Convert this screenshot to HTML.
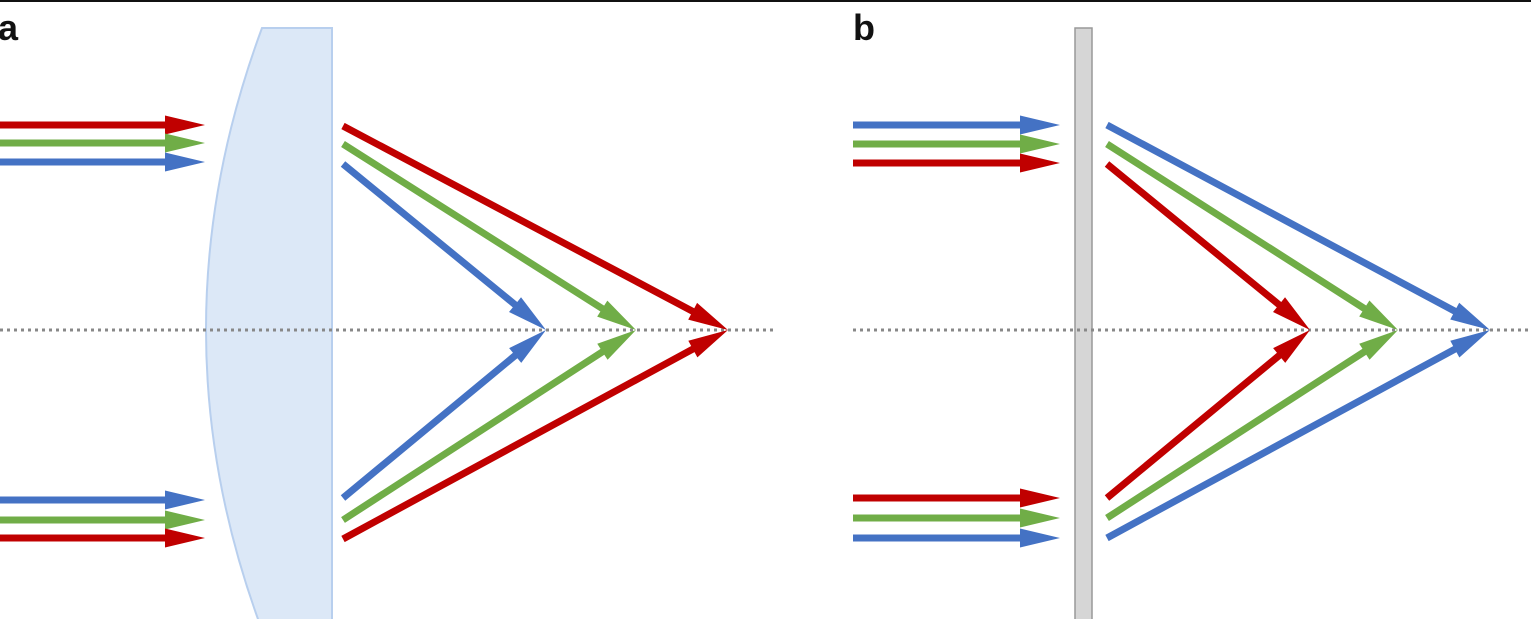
<!DOCTYPE html>
<html><head><meta charset="utf-8"><style>html,body{margin:0;padding:0;background:#fff;}svg{display:block}</style></head>
<body>
<svg width="1531" height="619" viewBox="0 0 1531 619" xmlns="http://www.w3.org/2000/svg">
<rect x="0" y="0" width="1531" height="2" fill="#111"/>
<text x="-2" y="40" font-family="Liberation Sans, sans-serif" font-weight="bold" font-size="36" fill="#111">a</text>
<text x="853" y="40" font-family="Liberation Sans, sans-serif" font-weight="bold" font-size="36" fill="#111">b</text>
<path d="M262,28 L332,28 L332,630 L262,630 Q150,330 262,28 z" fill="#dce8f7" stroke="#b8cfee" stroke-width="2"/>
<rect x="1075" y="28" width="17" height="600" fill="#d6d6d6" stroke="#999" stroke-width="1.5"/>
<line x1="0" y1="330" x2="775" y2="330" stroke="#888" stroke-width="3" stroke-dasharray="3,4"/>
<line x1="853" y1="330" x2="1531" y2="330" stroke="#888" stroke-width="3" stroke-dasharray="3,4"/>
<!-- panel a incoming -->
<g transform="translate(0,125)"><path fill="#c00000" d="M0,-3.5H165V-9.5L205,0L165,9.5V3.5H0Z"/></g>
<g transform="translate(0,143)"><path fill="#70ad47" d="M0,-3.5H165V-9.5L205,0L165,9.5V3.5H0Z"/></g>
<g transform="translate(0,162)"><path fill="#4472c4" d="M0,-3.5H165V-9.5L205,0L165,9.5V3.5H0Z"/></g>
<g transform="translate(0,500)"><path fill="#4472c4" d="M0,-3.5H165V-9.5L205,0L165,9.5V3.5H0Z"/></g>
<g transform="translate(0,520)"><path fill="#70ad47" d="M0,-3.5H165V-9.5L205,0L165,9.5V3.5H0Z"/></g>
<g transform="translate(0,538)"><path fill="#c00000" d="M0,-3.5H165V-9.5L205,0L165,9.5V3.5H0Z"/></g>
<!-- panel a outgoing -->
<g transform="translate(343,126) rotate(27.92)"><path fill="#c00000" d="M0,-3.5H395.7V-9.5L435.7,0L395.7,9.5V3.5H0Z"/></g>
<g transform="translate(343,144) rotate(32.41)"><path fill="#70ad47" d="M0,-3.5H307.1V-9.5L347.1,0L307.1,9.5V3.5H0Z"/></g>
<g transform="translate(343,164) rotate(39.27)"><path fill="#4472c4" d="M0,-3.5H222.2V-9.5L262.2,0L222.2,9.5V3.5H0Z"/></g>
<g transform="translate(343,498) rotate(-39.61)"><path fill="#4472c4" d="M0,-3.5H223.5V-9.5L263.5,0L223.5,9.5V3.5H0Z"/></g>
<g transform="translate(343,520) rotate(-32.96)"><path fill="#70ad47" d="M0,-3.5H309.2V-9.5L349.2,0L309.2,9.5V3.5H0Z"/></g>
<g transform="translate(343,539) rotate(-28.50)"><path fill="#c00000" d="M0,-3.5H398.1V-9.5L438.1,0L398.1,9.5V3.5H0Z"/></g>
<!-- panel b incoming -->
<g transform="translate(853,125)"><path fill="#4472c4" d="M0,-3.5H167V-9.5L207,0L167,9.5V3.5H0Z"/></g>
<g transform="translate(853,144)"><path fill="#70ad47" d="M0,-3.5H167V-9.5L207,0L167,9.5V3.5H0Z"/></g>
<g transform="translate(853,163)"><path fill="#c00000" d="M0,-3.5H167V-9.5L207,0L167,9.5V3.5H0Z"/></g>
<g transform="translate(853,498)"><path fill="#c00000" d="M0,-3.5H167V-9.5L207,0L167,9.5V3.5H0Z"/></g>
<g transform="translate(853,518)"><path fill="#70ad47" d="M0,-3.5H167V-9.5L207,0L167,9.5V3.5H0Z"/></g>
<g transform="translate(853,538)"><path fill="#4472c4" d="M0,-3.5H167V-9.5L207,0L167,9.5V3.5H0Z"/></g>
<!-- panel b outgoing -->
<g transform="translate(1107,125) rotate(28.16)"><path fill="#4472c4" d="M0,-3.5H394.4V-9.5L434.4,0L394.4,9.5V3.5H0Z"/></g>
<g transform="translate(1107,144) rotate(32.59)"><path fill="#70ad47" d="M0,-3.5H305.4V-9.5L345.4,0L305.4,9.5V3.5H0Z"/></g>
<g transform="translate(1107,164) rotate(39.27)"><path fill="#c00000" d="M0,-3.5H222.2V-9.5L262.2,0L222.2,9.5V3.5H0Z"/></g>
<g transform="translate(1107,498) rotate(-39.61)"><path fill="#c00000" d="M0,-3.5H223.5V-9.5L263.5,0L223.5,9.5V3.5H0Z"/></g>
<g transform="translate(1107,518) rotate(-32.86)"><path fill="#70ad47" d="M0,-3.5H306.4V-9.5L346.4,0L306.4,9.5V3.5H0Z"/></g>
<g transform="translate(1107,538) rotate(-28.50)"><path fill="#4472c4" d="M0,-3.5H395.8V-9.5L435.8,0L395.8,9.5V3.5H0Z"/></g>
</svg>
</body></html>
